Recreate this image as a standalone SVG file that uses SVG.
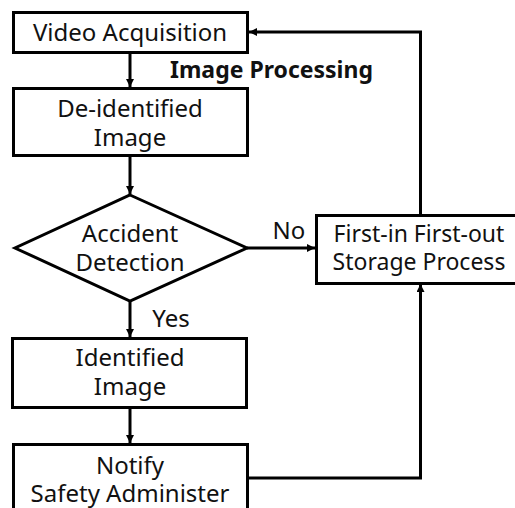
<svg xmlns="http://www.w3.org/2000/svg" width="515" height="508" viewBox="0 0 515 508">
<defs>
<style>
.box{fill:#fff;stroke:#000;stroke-width:3}
.t{font-family:"Noto Sans","Open Sans",sans-serif;font-size:24px;fill:#111;text-anchor:middle}
.s{font-size:23px}
.b{font-family:"Noto Sans","Open Sans",sans-serif;font-size:23px;font-weight:bold;fill:#111}
.c{fill:none;stroke:#000;stroke-width:3}
</style>
<marker id="ah" viewBox="0 0 10 10" refX="10" refY="5" markerWidth="10" markerHeight="8" markerUnits="userSpaceOnUse" orient="auto">
<path d="M0,0 L10,5 L0,10 z" fill="#000"/>
</marker>
</defs>
<rect width="515" height="508" fill="#fff"/>
<g id="connectors">
<line class="c" x1="130" y1="52" x2="130" y2="87" marker-end="url(#ah)"/>
<line class="c" x1="130" y1="156" x2="130" y2="194" marker-end="url(#ah)"/>
<line class="c" x1="247" y1="248" x2="315" y2="248" marker-end="url(#ah)"/>
<line class="c" x1="130" y1="301" x2="130" y2="337" marker-end="url(#ah)"/>
<line class="c" x1="130" y1="407" x2="130" y2="443" marker-end="url(#ah)"/>
<polyline class="c" points="420.5,215 420.5,32 249,32" marker-end="url(#ah)"/>
<polyline class="c" points="248,478 420.5,478 420.5,284" marker-end="url(#ah)"/>
</g>
<g id="label-image-processing"><text class="b" x="170" y="78">Image Processing</text></g>
<g id="label-no"><text class="t" x="289" y="239">No</text></g>
<g id="label-yes"><text class="t" x="171" y="327">Yes</text></g>
<g id="video-acquisition">
<rect class="box" x="13.5" y="12.5" width="234" height="40"/>
<text class="t" x="130" y="41">Video Acquisition</text>
</g>
<g id="de-identified-image">
<rect class="box" x="13.5" y="88.5" width="234" height="67"/>
<text class="t" x="130" y="117">De-identified</text>
<text class="t" x="130" y="146">Image</text>
</g>
<g id="accident-detection">
<polygon class="box" points="130,195 247,248 130,301 15,248"/>
<text class="t" x="130" y="242">Accident</text>
<text class="t" x="130" y="271">Detection</text>
</g>
<g id="fifo-storage">
<rect class="box" x="316.5" y="215.5" width="210" height="68"/>
<text class="t s" x="419" y="242">First-in First-out</text>
<text class="t s" x="419" y="270">Storage Process</text>
</g>
<g id="identified-image">
<rect class="box" x="12.5" y="338.5" width="234" height="69"/>
<text class="t" x="130" y="366">Identified</text>
<text class="t" x="130" y="395">Image</text>
</g>
<g id="notify-safety">
<rect class="box" x="13.5" y="444.5" width="234" height="80"/>
<text class="t" x="130" y="474">Notify</text>
<text class="t" x="130" y="502">Safety Administer</text>
</g>
</svg>
